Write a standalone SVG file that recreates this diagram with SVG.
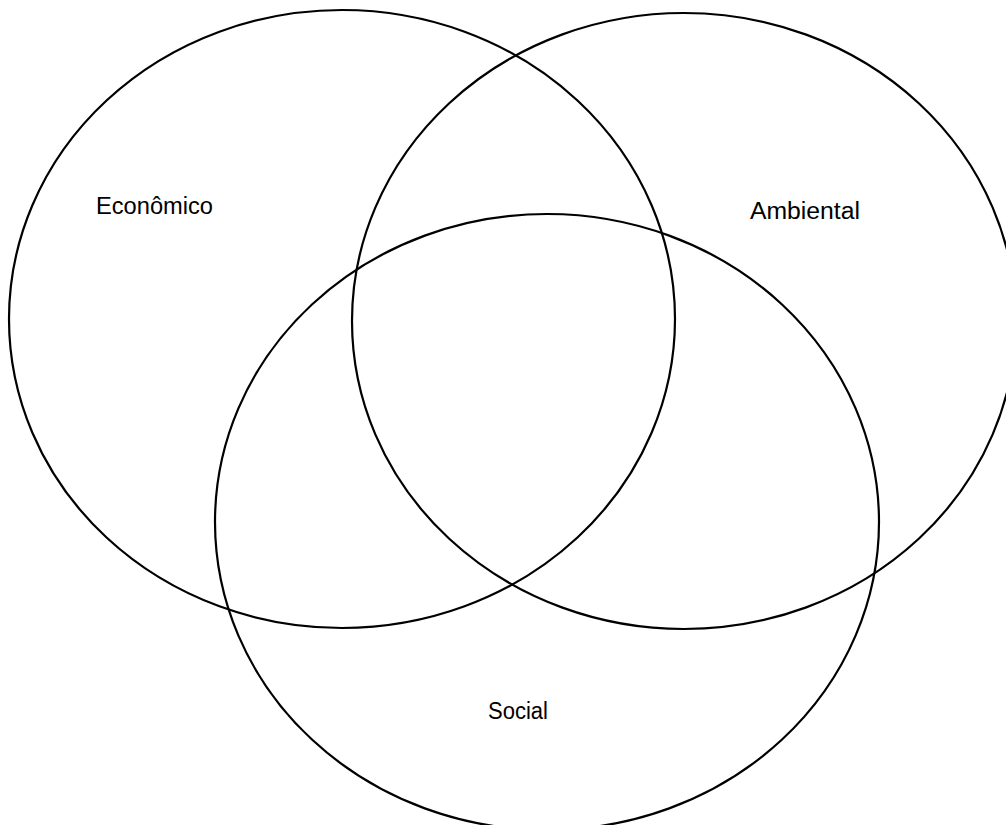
<svg xmlns="http://www.w3.org/2000/svg" width="1006" height="825" viewBox="0 0 1006 825">
<style>
.c{fill:none;stroke:#000;stroke-width:2.2}
.t{font-family:"Liberation Sans",Arial,sans-serif;font-size:23.5px;fill:#000}
</style>
<rect width="1006" height="825" fill="#fff"/>
<g id="economico">
<ellipse class="c" cx="342" cy="319" rx="333" ry="309"/>
<text class="t" x="96" y="214" textLength="117" lengthAdjust="spacingAndGlyphs">Econômico</text>
</g>
<g id="ambiental">
<ellipse class="c" cx="684" cy="321" rx="332" ry="308"/>
<text class="t" x="750" y="219" textLength="110" lengthAdjust="spacingAndGlyphs">Ambiental</text>
</g>
<g id="social">
<ellipse class="c" cx="547" cy="522" rx="332" ry="308"/>
<text class="t" x="488" y="719" textLength="60" lengthAdjust="spacingAndGlyphs">Social</text>
</g>
<g id="connectors"></g>
</svg>
